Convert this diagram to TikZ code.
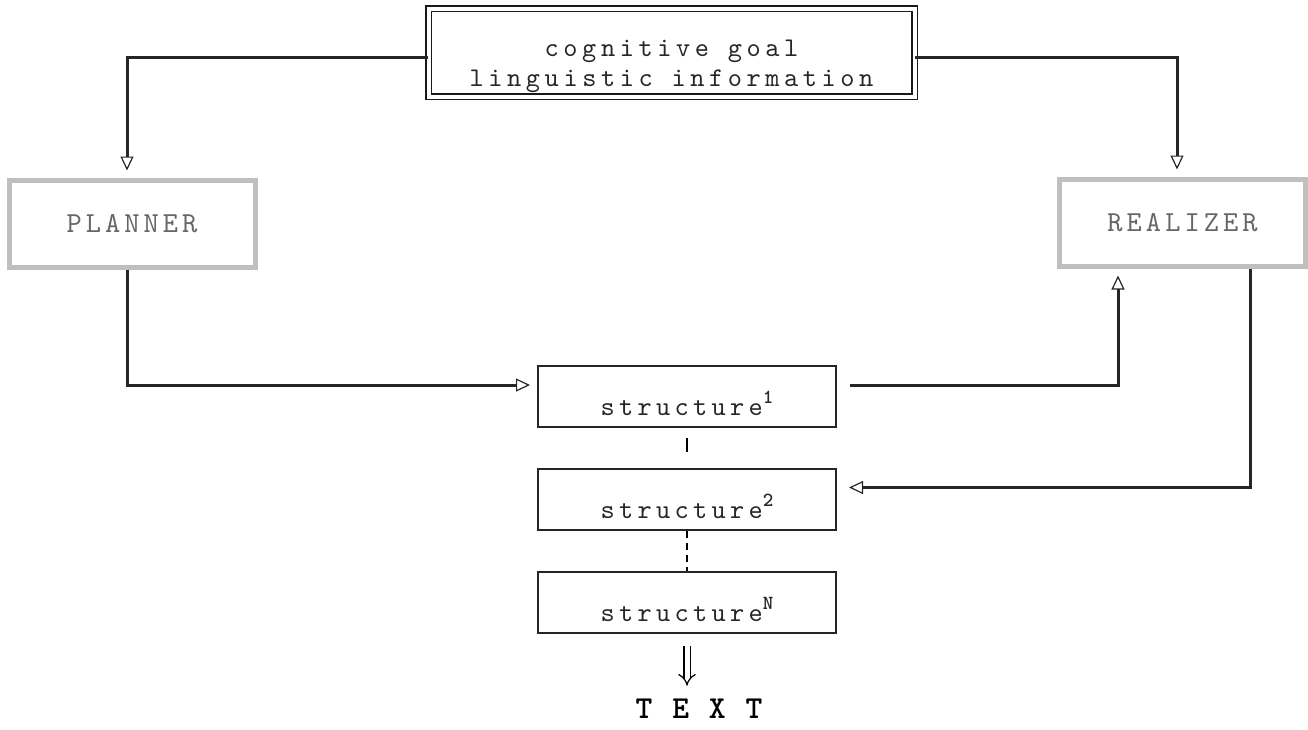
\documentclass[tikz,border=0pt]{standalone}
\usepackage{fontspec}
\usetikzlibrary{arrows.meta,positioning}
\newfontfamily\typerfam{lmmono10-regular.otf}[BoldFont=lmmonolt10-bold.otf]
\newcommand{\typer}[2]{\typerfam\fontsize{#1}{30}\selectfont\addfontfeature{LetterSpace=#2}}
\newcommand{\structlabel}[1]{structure\raisebox{12pt}{\fontsize{20}{20}\selectfont\bfseries #1}}

\begin{document}
\begin{tikzpicture}[x=1pt,y=-1pt,node distance=40pt,
  >={Triangle[open,length=14pt,width=13pt,line width=1.2pt]},
  flow/.style={line width=3pt,draw=black!85},
  sidebox/.style={draw=black!25,line width=5pt,minimum width=246pt,minimum height=87pt,text=black!60,font={\typer{29}{14}}},
  structbox/.style={draw=black!85,line width=2pt,minimum width=298pt,minimum height=61pt,text=black!85,font={\typer{27}{16}},text height=38pt,text depth=0pt}]
\useasboundingbox (0,0) rectangle (1308,729);
% input, the two modules
\node[draw=black!90,double,double distance=4pt,line width=1.5pt,minimum width=486pt,minimum height=88pt,
  align=center,font={\typer{27}{17}},text=black!85,text height=68pt,text depth=0pt] (goal) at (671.5,52.5) {cognitive goal\\linguistic information};
\node[sidebox] (planner) at (132,223.5) {PLANNER};
\node[sidebox] (realizer) at (1182.5,222.5) {REALIZER};
% chain of structures
\node[structbox] (s1) at (687,396.5) {\structlabel{1}};
\node[structbox,below=of s1] (s2) {\structlabel{2}};
\node[structbox,below=of s2] (sN) {\structlabel{N}};
\node[font={\typer{32}{62}\bfseries}] (out) at (699,709) {TEXT};
\draw[flow,->,shorten >=7pt] ([yshift=-5pt]goal.west) -| ([xshift=-5pt]planner.north);
\draw[flow,->,shorten >=7pt] ([yshift=-5pt]goal.east) -| ([xshift=-5.5pt]realizer.north);
\draw[flow,->,shorten >=7pt] ([xshift=-5pt]planner.south) |- ([yshift=11.5pt]s1.west);
\draw[flow,->,shorten <=13pt,shorten >=7pt] ([yshift=11.5pt]s1.east) -| ([xshift=-64.5pt]realizer.south);
\draw[flow,->,shorten >=12pt] ([xshift=67.5pt]realizer.south) |- ([yshift=12pt]s2.east);
\draw[line width=2pt,shorten <=10pt,shorten >=16pt] (s1) -- (s2);
\draw[line width=2pt,dash pattern=on 7pt off 5pt] (s2) -- (sN);
\draw[double,double distance=5pt,line width=1.2pt,shorten <=12pt,shorten >=10pt,-{Implies}] (sN.south) -- (sN.south |- out.north);
\end{tikzpicture}
\end{document}
